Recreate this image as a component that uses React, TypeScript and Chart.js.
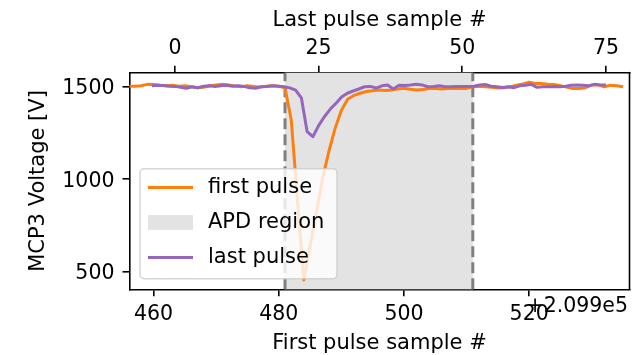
import React, { useEffect, useRef } from 'react';
import { Chart, registerables } from 'chart.js';

Chart.register(...registerables);

// ---------------- data ----------------
const firstPulseSamples = [
  456, 457, 458, 459, 460, 461, 462, 463, 464, 465,
  466, 467, 468, 469, 470, 471, 472, 473, 474, 475,
  476, 477, 478, 479, 480, 481, 482, 483, 484, 485,
  486, 487, 488, 489, 490, 491, 492, 493, 494, 495,
  496, 497, 498, 499, 500, 501, 502, 503, 504, 505,
  506, 507, 508, 509, 510, 511, 512, 513, 514, 515,
  516, 517, 518, 519, 520, 521, 522, 523, 524, 525,
  526, 527, 528, 529, 530, 531, 532, 533, 534, 535,
];
const firstPulseVoltage = [
  1502, 1503, 1505, 1513, 1512, 1508, 1505, 1508, 1503, 1505,
  1500, 1494, 1497, 1505, 1510, 1514, 1510, 1504, 1500, 1505,
  1502, 1498, 1503, 1505, 1503, 1495, 1320, 885, 455, 636,
  820, 1004, 1150, 1275, 1372, 1432, 1453, 1465, 1474, 1479,
  1482, 1480, 1483, 1488, 1492, 1487, 1483, 1485, 1490, 1492,
  1488, 1490, 1492, 1490, 1491, 1500, 1503, 1500, 1497, 1493,
  1495, 1500, 1508, 1515, 1524, 1518, 1518, 1514, 1512, 1505,
  1498, 1491, 1490, 1495, 1510, 1510, 1500, 1508, 1505, 1500,
];
const lastPulseSamples = [
  -4, -3, -2, -1, 0, 1, 2, 3, 4, 5,
  6, 7, 8, 9, 10, 11, 12, 13, 14, 15,
  16, 17, 18, 19, 20, 21, 22, 23, 24, 25,
  26, 27, 28, 29, 30, 31, 32, 33, 34, 35,
  36, 37, 38, 39, 40, 41, 42, 43, 44, 45,
  46, 47, 48, 49, 50, 51, 52, 53, 54, 55,
  56, 57, 58, 59, 60, 61, 62, 63, 64, 65,
  66, 67, 68, 69, 70, 71, 72, 73, 74, 75,
];
const lastPulseVoltage = [
  1505, 1508, 1507, 1503, 1502, 1497, 1492, 1500, 1495, 1503,
  1506, 1502, 1505, 1508, 1503, 1506, 1502, 1494, 1492, 1500,
  1502, 1505, 1503, 1500, 1494, 1482, 1440, 1258, 1230, 1290,
  1338, 1378, 1410, 1445, 1465, 1477, 1488, 1500, 1502, 1493,
  1505, 1509, 1488, 1508, 1507, 1509, 1514, 1510, 1500, 1502,
  1505, 1500, 1500, 1502, 1502, 1502, 1503, 1510, 1512, 1503,
  1500, 1496, 1500, 1495, 1505, 1508, 1513, 1497, 1500, 1500,
  1502, 1500, 1503, 1508, 1510, 1508, 1505, 1513, 1510, 1509,
];
const apdRegion = [481, 511];
const bottomTicks = [460, 480, 500, 520];
const topTicks = [0, 25, 50, 75];
const yTicks = [500, 1000, 1500];
const bottomRange = [456.16, 536.03];
const topRange = [-7.9, 79.09];
const yRange = [405, 1576];
const legendLabels = ['first pulse', 'APD region', 'last pulse'];
const offsetText = '+2.099e5';
const bottomTitle = 'First pulse sample #';
const topTitle = 'Last pulse sample #';
const yTitle = 'MCP3 Voltage [V]';

// ---------------- styles ----------------
const FONT = '"DejaVu Sans", sans-serif';
const TICK_SIZE = 20.5;
const LABEL_SIZE = 21;
const ORANGE = '#ff7f0e';
const PURPLE = '#9467bd';
const SPAN = '#e3e3e3';
const SPINE = 1.6;

const overlay = {
  id: 'overlay',
  beforeDatasetsDraw(chart: any) {
    const { ctx, chartArea: a, scales } = chart;
    const x0 = scales.x.getPixelForValue(apdRegion[0]);
    const x1 = scales.x.getPixelForValue(apdRegion[1]);
    ctx.save();
    ctx.fillStyle = SPAN;
    ctx.fillRect(x0, a.top, x1 - x0, a.bottom - a.top);
    ctx.strokeStyle = '#808080';
    ctx.lineWidth = 3;
    ctx.setLineDash([11, 5]);
    for (const px of [x0, x1]) {
      ctx.beginPath();
      ctx.moveTo(px, a.bottom);
      ctx.lineTo(px, a.top);
      ctx.stroke();
    }
    ctx.restore();
  },
  afterDatasetsDraw(chart: any) {
    const { ctx, chartArea: a } = chart;
    ctx.save();
    // right spine
    ctx.strokeStyle = '#000';
    ctx.lineWidth = SPINE;
    ctx.beginPath();
    ctx.moveTo(a.right, a.top - SPINE / 2);
    ctx.lineTo(a.right, a.bottom + SPINE / 2);
    ctx.stroke();

    // legend
    const bx = a.left + 10.5;
    const bw = 197;
    const bh = 110;
    const by = a.bottom - 10.5 - bh;
    const r = 4.2;
    ctx.beginPath();
    ctx.moveTo(bx + r, by);
    ctx.lineTo(bx + bw - r, by);
    ctx.arcTo(bx + bw, by, bx + bw, by + r, r);
    ctx.lineTo(bx + bw, by + bh - r);
    ctx.arcTo(bx + bw, by + bh, bx + bw - r, by + bh, r);
    ctx.lineTo(bx + r, by + bh);
    ctx.arcTo(bx, by + bh, bx, by + bh - r, r);
    ctx.lineTo(bx, by + r);
    ctx.arcTo(bx, by, bx + r, by, r);
    ctx.closePath();
    ctx.fillStyle = 'rgba(255,255,255,0.8)';
    ctx.fill();
    ctx.strokeStyle = 'rgba(204,204,204,0.8)';
    ctx.lineWidth = 1.5;
    ctx.stroke();

    const rows = [by + 18.7, by + 53.7, by + 88.7];
    const hx0 = bx + 8;
    const hx1 = bx + 53;
    ctx.lineWidth = 3;
    ctx.strokeStyle = ORANGE;
    ctx.beginPath();
    ctx.moveTo(hx0, rows[0]);
    ctx.lineTo(hx1, rows[0]);
    ctx.stroke();
    ctx.fillStyle = SPAN;
    ctx.fillRect(hx0, rows[1] - 7.4, hx1 - hx0, 14.8);
    ctx.strokeStyle = PURPLE;
    ctx.beginPath();
    ctx.moveTo(hx0, rows[2]);
    ctx.lineTo(hx1, rows[2]);
    ctx.stroke();

    ctx.fillStyle = '#000';
    ctx.font = `${LABEL_SIZE}px ${FONT}`;
    ctx.textAlign = 'left';
    ctx.textBaseline = 'middle';
    legendLabels.forEach((t, i) => ctx.fillText(t, bx + 68, rows[i]));

    // offset text of bottom axis
    ctx.font = `${TICK_SIZE}px ${FONT}`;
    ctx.textAlign = 'right';
    ctx.fillText(offsetText, a.right - 1.5, a.bottom + 17);
    ctx.restore();
  },
};

const axisCommon = () => ({
  grid: {
    display: true,
    drawOnChartArea: false,
    drawTicks: true,
    tickLength: 7,
    color: '#000',
    tickColor: '#000',
    tickWidth: SPINE,
    lineWidth: SPINE,
  },
  border: { display: true, color: '#000', width: SPINE },
});

export default function App() {
  const ref = useRef<HTMLCanvasElement>(null);
  useEffect(() => {
    const canvas = ref.current;
    if (!canvas) return;
    const chart = new Chart(canvas, {
      type: 'line',
      data: {
        datasets: [
          {
            label: legendLabels[2],
            data: lastPulseSamples.map((x, i) => ({ x, y: lastPulseVoltage[i] })),
            xAxisID: 'xTop',
            yAxisID: 'y',
            borderColor: PURPLE,
            borderWidth: 3,
            pointRadius: 0,
            tension: 0,
            borderJoinStyle: 'round',
            order: 0,
          },
          {
            label: legendLabels[0],
            data: firstPulseSamples.map((x, i) => ({ x, y: firstPulseVoltage[i] })),
            xAxisID: 'x',
            yAxisID: 'y',
            borderColor: ORANGE,
            borderWidth: 3,
            pointRadius: 0,
            tension: 0,
            borderJoinStyle: 'round',
            order: 1,
          },
        ],
      },
      options: {
        responsive: false,
        animation: false,
        devicePixelRatio: 1,
        layout: { padding: { left: 0, right: 6.5, top: 0, bottom: 0 } },
        plugins: { legend: { display: false }, tooltip: { enabled: false } },
        scales: {
          x: {
            type: 'linear',
            position: 'bottom',
            min: bottomRange[0],
            max: bottomRange[1],
            ...axisCommon(),
            afterBuildTicks: (s: any) => { s.ticks = bottomTicks.map((v) => ({ value: v })); },
            afterFit: (s: any) => { s.height = 65.7; },
            ticks: {
              color: '#000',
              font: { family: FONT, size: TICK_SIZE },
              padding: 6,
              maxRotation: 0,
              autoSkip: false,
              callback: (v: any) => String(v),
            },
            title: {
              display: true,
              text: bottomTitle,
              color: '#000',
              font: { family: FONT, size: LABEL_SIZE },
              padding: { top: 0, bottom: -1 },
            },
          },
          xTop: {
            type: 'linear',
            position: 'top',
            min: topRange[0],
            max: topRange[1],
            ...axisCommon(),
            afterBuildTicks: (s: any) => { s.ticks = topTicks.map((v) => ({ value: v })); },
            afterFit: (s: any) => { s.height = 72.7; },
            ticks: {
              color: '#000',
              font: { family: FONT, size: TICK_SIZE },
              padding: 5,
              maxRotation: 0,
              autoSkip: false,
              callback: (v: any) => String(v),
            },
            title: {
              display: true,
              text: topTitle,
              color: '#000',
              font: { family: FONT, size: LABEL_SIZE },
              padding: { top: 8.4, bottom: 0 },
            },
          },
          y: {
            type: 'linear',
            position: 'left',
            min: yRange[0],
            max: yRange[1],
            ...axisCommon(),
            afterBuildTicks: (s: any) => { s.ticks = yTicks.map((v) => ({ value: v })); },
            afterFit: (s: any) => { s.width = 129.5; },
            ticks: {
              color: '#000',
              font: { family: FONT, size: TICK_SIZE },
              padding: 8,
              labelOffset: 2,
              autoSkip: false,
              callback: (v: any) => String(v),
            },
            title: {
              display: true,
              text: yTitle,
              color: '#000',
              font: { family: FONT, size: LABEL_SIZE },
              padding: { top: 26, bottom: 0 },
            },
          },
        },
      },
      plugins: [overlay],
    } as any);
    return () => chart.destroy();
  }, []);
  return (
    <canvas
      ref={ref}
      width={636}
      height={355}
      style={{ position: 'fixed', left: 0, top: 0, width: 636, height: 355 }}
    />
  );
}
